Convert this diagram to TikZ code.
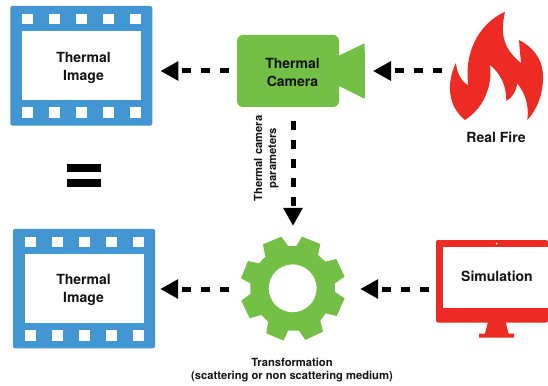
\documentclass[tikz,border=0pt]{standalone}
\usepackage{fontspec}
\setmainfont{TeX Gyre Heros}
\usetikzlibrary{arrows.meta}
\definecolor{filmblue}{HTML}{4297D3}
\definecolor{camgreen}{HTML}{74BF45}
\definecolor{firered}{HTML}{EE2A24}
\newcommand{\filmstrip}[3]{% name, cx, cy
  \node[filmbody] (#1) at (#2,#3) {};
  \fill[white] (#2-59.5,#3-34.5) rectangle (#2+59.5,#3+34.5);
  \foreach \k in {-2,...,2}{
    \fill[white] (#2+27*\k-5.5,#3-52) rectangle (#2+27*\k+5.5,#3-41.5);
    \fill[white] (#2+27*\k-5.5,#3+41.5) rectangle (#2+27*\k+5.5,#3+52);
  }
}
\tikzset{
  filmbody/.style={fill=filmblue,rounded corners=2pt,minimum width=142pt,minimum height=119.5pt,inner sep=0pt,draw=none},
  label/.style={font=\fontsize{14}{17.5}\selectfont\bfseries,align=center,inner sep=0pt,text=black!92},
  small/.style={font=\fontsize{11.2}{14.5}\selectfont\bfseries,align=center,inner sep=0pt,text=black!92},
  conn/.style={line width=5pt,dash pattern=on 9pt off 10pt,-{Triangle[length=18pt,width=18.5pt]}},
  region/.style={inner sep=0pt,draw=none},
}
\begin{document}
\begin{tikzpicture}[x=1pt,y=-1pt]
\useasboundingbox (0,0) rectangle (548,385);
% film strips
\filmstrip{imgA}{81.25}{65.75}
\filmstrip{imgB}{84}{288.5}
\node[label] (imgAtext) at (83.5,68) {Thermal\\Image};
\node[label] (imgBtext) at (83.5,290) {Thermal\\Image};
% equals
\fill (66.7,164.3) rectangle (101,171.7);
\fill (66.7,179) rectangle (101,186.5);
% camera
\node[fill=camgreen,rounded corners=6pt,minimum width=102pt,minimum height=72pt,inner sep=0pt] (cam) at (288,71) {};
\fill[camgreen,rounded corners=0.7pt] (338,56) -- (364.7,43.3) -- (365,99) -- (338,85.5) -- cycle;
\coordinate (lens) at (365,71);
\node[label] (camtext) at (292.5,72.5) {Thermal\\Camera};
% fire
\node[region,minimum width=94pt,minimum height=110pt] (fire) at (495.5,65) {};
\fill[firered,shift={(440,5)},scale=0.3333]
  (195,20) .. controls (180,90) and (190,130) .. (243,175)
  -- (237,105) .. controls (285,130) and (312,170) .. (309,225)
  .. controls (307,280) and (285,320) .. (262,345)
  .. controls (268,300) and (255,265) .. (232,235)
  .. controls (228,260) and (215,280) .. (199,288)
  .. controls (200,245) and (182,205) .. (150,180)
  .. controls (158,245) and (130,310) .. (75,345)
  .. controls (30,310) and (14,245) .. (48,173)
  .. controls (50,205) and (65,230) .. (85,241)
  .. controls (72,150) and (110,60) .. (195,20) -- cycle;
\node[label] (firetext) at (496,137.5) {Real Fire};
% gear
\node[region,circle,minimum size=104pt] (gear) at (293,289) {};
\fill[camgreen,even odd rule,shift={(233,230)},scale=0.3333]
  (165,48) -- (190,48) -- (207,20) -- (262,42) -- (255,75) -- (277,95) -- (310,87) -- (335,140)
  -- (306,160) -- (306,186) -- (335,205) -- (311,258) -- (278,250) -- (262,272) -- (270,305)
  -- (217,330) -- (198,302) -- (165,302) -- (152,332) -- (100,310) -- (105,275) -- (85,255)
  -- (50,265) -- (25,212) -- (52,192) -- (52,160) -- (24,145) -- (45,93) -- (78,100) -- (97,80)
  -- (90,43) -- (145,20) -- cycle
  (179,175) circle[radius=72];
\node[small] (gearA) at (292,362) {Transformation};
\node[small] (gearB) at (292,376.5) {(scattering or non scattering medium)};
% monitor
\fill[firered,rounded corners=2pt] (548,240) -- (436,240) -- (436,322.5) -- (548,322.5) -- cycle;
\fill[firered] (488,322) -- (505.7,322) -- (508.5,333.5) -- (514,333.5) -- (514,337.5) -- (479,337.5) -- (479,333.5) -- (485,333.5) -- cycle;
\node[region,minimum width=112pt,minimum height=82.5pt] (mon) at (492,281.2) {};
\fill[white] (443.3,247.3) rectangle (548,308.3);
\fill[white] (496.7,243.6) circle[radius=1];
\node[label] (simtext) at (497,276.5) {Simulation};
% rotated label
\node[small,rotate=90] (paramA) at (258,158.5) {Thermal camera};
\node[small,rotate=90] (paramB) at (273.5,158) {parameters};
% connectors
\draw[conn,shorten <=8pt,shorten >=8pt] (cam.west) -- (cam.west -| imgA.east);
\draw[conn,shorten <=6pt,shorten >=8pt] (lens -| fire.west) -- (lens);
\draw[conn,shorten <=14pt,shorten >=11pt] (gear.north |- cam.south) -- (gear.north);
\draw[conn,shorten <=12pt,shorten >=5pt] (gear.west) -- (gear.west -| imgB.east);
\draw[conn,shorten <=7pt,shorten >=15pt] (gear.east -| mon.west) -- (gear.east);
\end{tikzpicture}
\end{document}
